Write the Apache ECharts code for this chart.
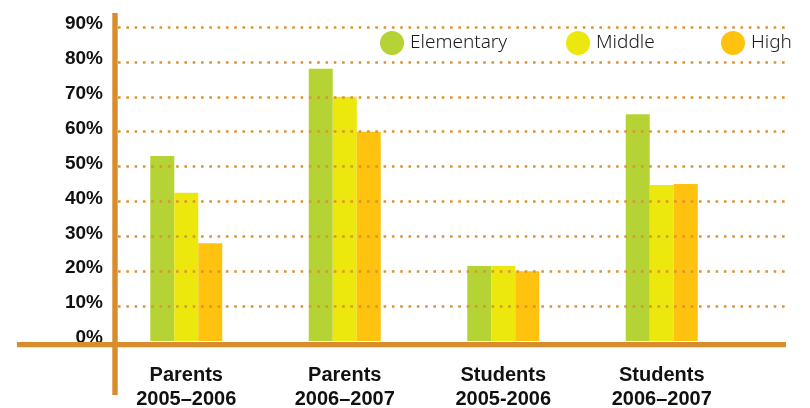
<!DOCTYPE html>
<html>
<head>
<meta charset="utf-8">
<script src="https://cdn.jsdelivr.net/npm/echarts@6/dist/echarts.min.js"></script>
<style>
  html, body { margin: 0; padding: 0; background: #ffffff; }
  #chart { width: 810px; height: 408px; }
</style>
</head>
<body>
<div id="chart"></div>
<script>
// Survey groups along the x axis
const categories = [
  'Parents\n2005\u20132006',
  'Parents\n2006\u20132007',
  'Students\n2005-2006',
  'Students\n2006\u20132007'
];

// Percentages per school level
const elementary = [53, 78, 21.5, 65];
const middle = [42.5, 70, 21.5, 44.7];
const high = [28, 60, 20, 45];

// Y axis ticks (percent)
const yMin = 0;
const yMax = 90;
const yStep = 10;

const AXIS_ORANGE = '#d98c2b';
const DOT_ORANGE = '#de9233';
const COLORS = { Elementary: '#b5d334', Middle: '#ece70d', High: '#ffc20e' };

const chart = echarts.init(document.getElementById('chart'), null, { renderer: 'canvas' });

function legendAt(name, left) {
  return {
    data: [name],
    left: left,
    top: 31,
    padding: 0,
    icon: 'circle',
    itemWidth: 24,
    itemHeight: 24,
    itemGap: 0,
    selectedMode: false,
    textStyle: { fontFamily: 'Noto Sans', fontWeight: 300, fontSize: 19, color: '#1a1a1a', padding: [0, 0, 0, 1] }
  };
}

function barSeries(name, values) {
  return {
    name: name,
    type: 'bar',
    xAxisIndex: 0,
    yAxisIndex: 0,
    data: values,
    barWidth: 24,
    barGap: '0%',
    itemStyle: { color: COLORS[name] },
    z: 2
  };
}

chart.setOption({
  animation: false,
  backgroundColor: '#ffffff',
  legend: [
    legendAt('Elementary', 380),
    legendAt('Middle', 566),
    legendAt('High', 721)
  ],
  grid: [
    // bars
    { left: 107, right: 69, top: 27, bottom: 67, outerBoundsMode: 'none', containLabel: false },
    // dotted guides and percent labels
    { left: 115, right: 23, top: 27, bottom: 67, outerBoundsMode: 'none', containLabel: false }
  ],
  xAxis: [
    {
      type: 'category',
      gridIndex: 0,
      data: categories,
      axisLine: { show: false },
      axisTick: { show: false },
      axisLabel: {
        margin: 22,
        fontFamily: 'Liberation Sans',
        fontWeight: 'bold',
        fontSize: 20,
        lineHeight: 24,
        color: '#111'
      }
    },
    { type: 'value', gridIndex: 1, min: 0, max: 1, show: false }
  ],
  yAxis: [
    { type: 'value', gridIndex: 0, min: yMin, max: yMax, interval: yStep, show: false },
    {
      type: 'value',
      gridIndex: 1,
      min: yMin,
      max: yMax,
      interval: yStep,
      z: 5,
      axisLine: { show: false },
      axisTick: { show: false },
      axisLabel: {
        margin: 12,
        formatter: '{value}%',
        fontFamily: 'Liberation Sans',
        fontWeight: 'bold',
        fontSize: 19,
        color: '#111',
        verticalAlign: 'bottom',
        lineHeight: 6
      },
      splitLine: {
        show: true,
        showMinLine: false,
        lineStyle: { color: DOT_ORANGE, width: 2.6, type: [2.6, 5.7], dashOffset: -3 }
      }
    }
  ],
  series: [
    barSeries('Elementary', elementary),
    barSeries('Middle', middle),
    barSeries('High', high)
  ]
});

// Crossed axis lines, anchored to the value axis origin
const originX = chart.convertToPixel({ xAxisIndex: 1 }, 0);
const originY = chart.convertToPixel({ yAxisIndex: 1 }, yMin);
chart.setOption({
  graphic: [
    {
      type: 'rect',
      z: 10,
      shape: { x: originX - 2.7, y: 13, width: 5.4, height: 395 - 13 },
      style: { fill: AXIS_ORANGE }
    },
    {
      type: 'rect',
      z: 10,
      shape: { x: 17, y: originY + 1, width: 786 - 17, height: 5.3 },
      style: { fill: AXIS_ORANGE }
    }
  ]
});
</script>
</body>
</html>
